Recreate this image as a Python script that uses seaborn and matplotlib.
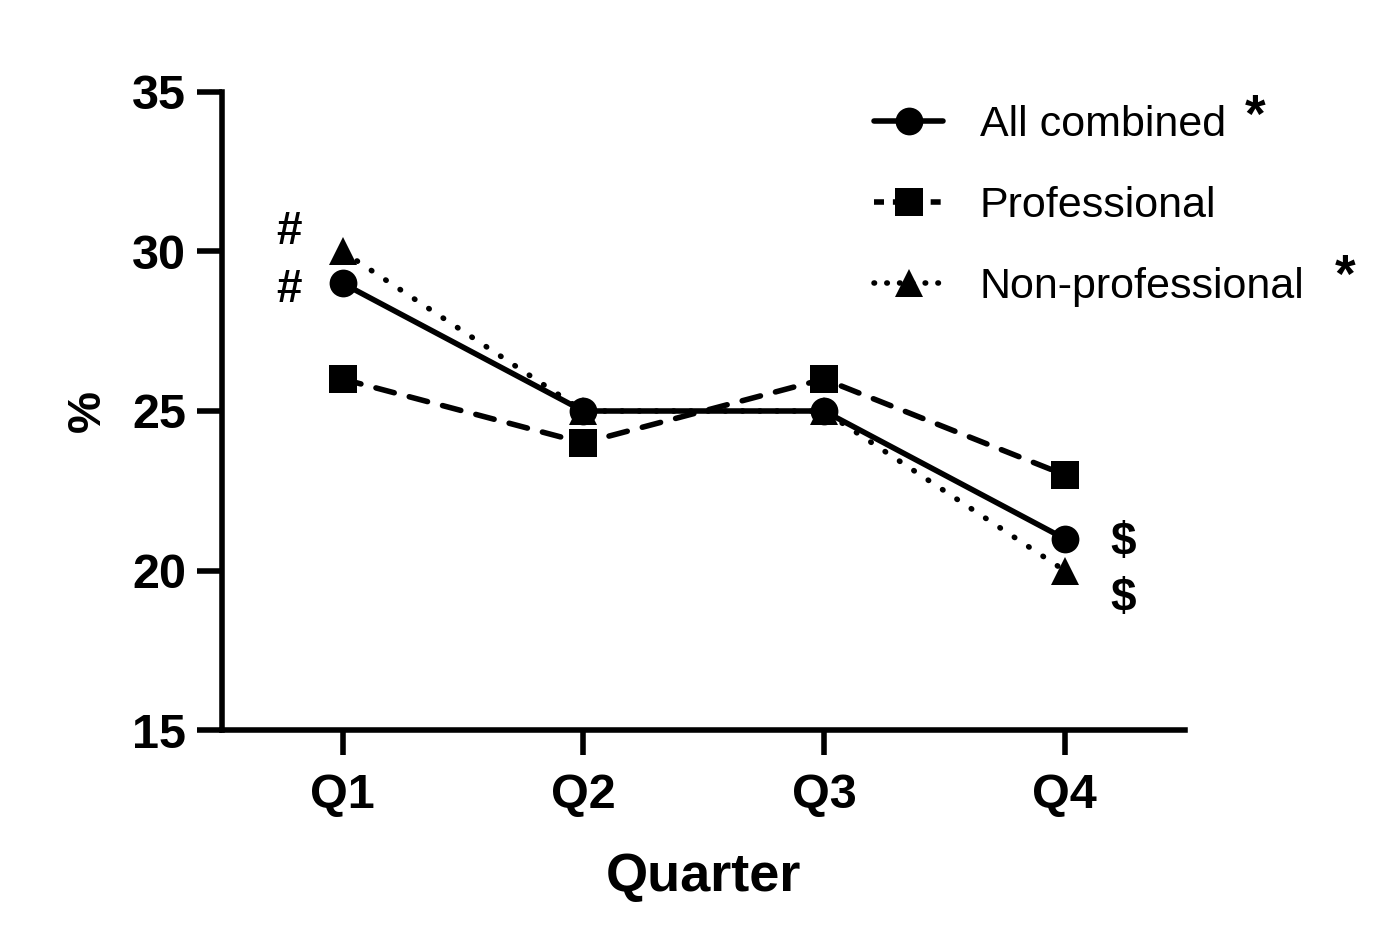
import pandas as pd
import matplotlib.pyplot as plt
from matplotlib.lines import Line2D
import seaborn as sns

# values
quarters = ['Q1', 'Q2', 'Q3', 'Q4']
all_combined = [29, 25, 25, 21]
professional = [26, 24, 26, 23]
non_professional = [30, 25, 25, 20]
groups = ['All combined', 'Professional', 'Non-professional']

df = pd.DataFrame({
    'Quarter': quarters * 3,
    'pct': all_combined + professional + non_professional,
    'Group': [g for g in groups for _ in quarters],
})

sns.set_style('ticks')
plt.rcParams['font.family'] = ['Liberation Sans', 'DejaVu Sans']
plt.rcParams['text.color'] = 'black'
plt.rcParams['axes.labelcolor'] = 'black'
plt.rcParams['xtick.color'] = 'black'
plt.rcParams['ytick.color'] = 'black'

marker_map = {'All combined': 'o', 'Professional': 's', 'Non-professional': '^'}
dash_map = {'All combined': '', 'Professional': (3.4, 2.8), 'Non-professional': (0.1, 3.0)}

fig = plt.figure(figsize=(13.81, 9.47), dpi=100)
ax = fig.add_axes([0.161, 0.229, 0.697, 0.674])

sns.lineplot(data=df, x='Quarter', y='pct', style='Group', ax=ax,
             color='black', linewidth=4.0, markers=marker_map, dashes=dash_map,
             markersize=20, markeredgewidth=0, legend=False)
for line in ax.lines:
    line.set_dash_capstyle('round')

ax.set_xlim(-0.5, 3.5)
ax.set_ylim(15, 35)
ax.set_yticks([15, 20, 25, 30, 35])
sns.despine(ax=ax)
for s in ['left', 'bottom']:
    ax.spines[s].set_linewidth(4)
    ax.spines[s].set_color('black')
ax.tick_params(axis='both', length=18, width=4, labelsize=35, pad=8)
ax.tick_params(axis='x', pad=13)
for t in ax.get_xticklabels() + ax.get_yticklabels():
    t.set_fontweight('bold')
ax.set_xlabel('Quarter', fontsize=39, fontweight='bold', labelpad=24)
ax.set_ylabel('%', fontsize=34, fontweight='bold', labelpad=16)

# significance marks
for y in [30.6, 28.8]:
    ax.text(-0.225, y, '#', fontsize=33, fontweight='bold', ha='center', va='center')
for y in [20.85, 19.1]:
    ax.text(3.245, y, '$', fontsize=33, fontweight='bold', ha='center', va='center')

handles = [
    Line2D([], [], color='black', lw=4.0, marker='o', markersize=20, markeredgewidth=0),
    Line2D([], [], color='black', lw=4.0, marker='s', markersize=20, markeredgewidth=0,
           linestyle=(0, (1.8, 1.6))),
    Line2D([], [], color='black', lw=4.0, marker='^', markersize=20, markeredgewidth=0,
           linestyle=(0, (0.1, 2.2)), dash_capstyle='round'),
]
fig.legend(handles, groups, loc='upper left', bbox_to_anchor=(0.605, 0.93),
           frameon=False, fontsize=31, handlelength=1.6, handletextpad=0.85,
           labelspacing=0.95)
fig.text(1255 / 1381, 1 - 118 / 947, '*', fontsize=38, fontweight='bold', ha='center', va='center')
fig.text(1345 / 1381, 1 - 278 / 947, '*', fontsize=38, fontweight='bold', ha='center', va='center')

fig.savefig('out.png', dpi=100)
